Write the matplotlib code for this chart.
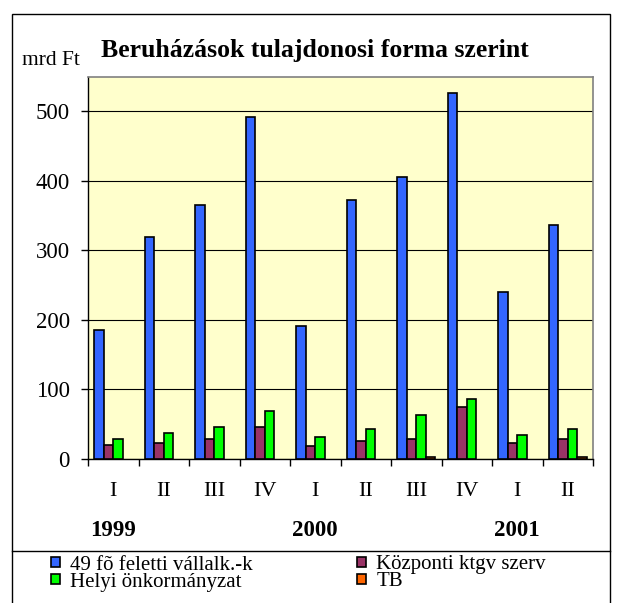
#! /usr/bin/env python

# imports
import numpy as np
import matplotlib
matplotlib.use('Agg')
import matplotlib.pyplot as plt
from matplotlib.patches import Rectangle, Patch
from matplotlib.lines import Line2D
import matplotlib.transforms as transforms

matplotlib.rcParams['font.family'] = ['Liberation Serif', 'DejaVu Serif']

# data (mrd Ft)
quarters = ['I', 'II', 'III', 'IV', 'I', 'II', 'III', 'IV', 'I', 'II']
years = ['1999', '2000', '2001']
year_pos = [0, 4, 8]   # quarter index under which the year is written
series_names = ['49 fõ feletti vállalk.-k', 'Központi ktgv szerv',
                'Helyi önkormányzat', 'TB']
vallalk = [186, 320, 366, 492, 191, 372, 406, 526, 240, 337]
kozponti = [20, 23, 29, 46, 18, 26, 29, 75, 23, 29]
helyi = [29, 38, 46, 69, 32, 43, 64, 86, 34, 43]
tb = [0, 0, 0, 0, 0, 0, 3, 0, 0, 3]

colors = ['#3366FF', '#993366', '#00FF00', '#FF6600']

W, H = 621, 603
fig = plt.figure(figsize=[W / 100, H / 100], dpi=100)
ax = fig.add_axes([88 / W, 1 - 459 / H, 505 / W, (459 - 76.7) / H])
ax.set_facecolor('#FFFFCC')

n = len(quarters)
x = np.arange(n) + 0.5
bw = 0.187
all_series = [vallalk, kozponti, helyi, tb]
for k, vals in enumerate(all_series):
    # zero values get no outline, like in the original
    lws = [1.2 if v > 0 else 0 for v in vals]
    ax.bar(x + (k - 1.5) * bw, vals, width=bw, color=colors[k],
           edgecolor='black', linewidth=lws, zorder=3)

ax.set_xlim(0, n)
ax.set_ylim(0, 550)

# gridlines
ax.set_yticks(np.arange(0, 501, 100))
ax.yaxis.grid(True, color='black', linewidth=0.8, zorder=1)
ax.set_axisbelow(True)

# ticks at group boundaries, labels in the middle
ax.set_xticks(np.arange(0, n + 1))
ax.set_xticklabels([])
ax.set_xticks(x, minor=True)
ax.set_xticklabels(quarters, minor=True, fontsize=16)
ax.tick_params(axis='x', which='major', direction='out', length=5, width=1)
ax.tick_params(axis='x', which='minor', length=0, pad=16.5)
ax.tick_params(axis='y', direction='out', length=5, width=1, labelsize=16.5, pad=8)

for s in ['top', 'right']:
    ax.spines[s].set_color('#808080')
    ax.spines[s].set_linewidth(1.2)
for s in ['left', 'bottom']:
    ax.spines[s].set_color('black')
    ax.spines[s].set_linewidth(1.0)

# year labels
trans = transforms.blended_transform_factory(ax.transData, fig.transFigure)
for yr, p in zip(years, year_pos):
    ax.text(x[p], 1 - 530 / H, yr, transform=trans, ha='center', va='center',
            fontsize=16.5, fontweight='bold')

# title and unit
fig.text(101 / W, 1 - 56.7 / H, 'Beruházások tulajdonosi forma szerint',
         ha='left', va='baseline', fontsize=18.5, fontweight='bold')
fig.text(21.5 / W, 1 - 65 / H, 'mrd Ft', ha='left', va='baseline', fontsize=15.5)

# outer frame and legend separator
fig.add_artist(Rectangle((12 / W, -0.01), (610 - 12) / W, 1 - 14 / H + 0.01,
                         transform=fig.transFigure, fill=False,
                         edgecolor='black', linewidth=1.0))
fig.add_artist(Line2D([12 / W, 610 / W], [1 - 551 / H, 1 - 551 / H],
                      transform=fig.transFigure, color='black', linewidth=1.0))

# legend: one small legend per entry so rows can sit close together
leg_x = [51, 51, 357, 357]
leg_y = [565, 582, 565, 582]
leg_order = [0, 2, 1, 3]
leg_kw = dict(loc='center left', frameon=False, fontsize=15,
              handlelength=0.42, handleheight=0.42, handletextpad=0.5,
              borderaxespad=0, borderpad=0)
for i, k in enumerate(leg_order):
    h = Patch(facecolor=colors[k], edgecolor='black', linewidth=1.2)
    fig.legend([h], [series_names[k]],
               bbox_to_anchor=(leg_x[i] / W, 1 - leg_y[i] / H), **leg_kw)

plt.savefig('out.png', dpi=100)
plt.close()
